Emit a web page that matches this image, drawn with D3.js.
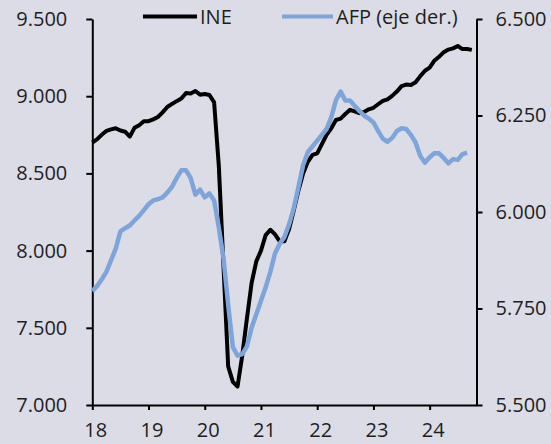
<!DOCTYPE html>
<html>
<head>
<meta charset="utf-8">
<script src="https://cdn.jsdelivr.net/npm/d3@7"></script>
<style>
  body { margin: 0; background: #dcdce6; }
  text { font-family: "Open Sans", sans-serif; fill: #1e1e1e; }
</style>
</head>
<body>
<div id="my_dataviz"></div>
<script>
// monthly series, Jan 2018 onward (thousands of people)
var ine = [8700, 8720, 8750, 8775, 8785, 8792, 8778, 8770, 8738, 8795, 8812, 8838,
           8838, 8850, 8865, 8895, 8930, 8950, 8968, 8985, 9020, 9018, 9034, 9010,
           9014, 9008, 8960, 8550, 7900, 7250, 7150, 7120, 7320, 7560, 7790, 7930,
           8000, 8100, 8135, 8105, 8060, 8060, 8140, 8260, 8390, 8500, 8575, 8620,
           8630, 8690, 8750, 8792, 8846, 8855, 8885, 8912, 8902, 8890, 8898, 8915,
           8925, 8948, 8970, 8980, 9002, 9030, 9065, 9075, 9073, 9090, 9130, 9165,
           9185, 9230, 9255, 9285, 9302, 9310, 9325, 9305, 9306, 9300];
var afp = [5795, 5808, 5825, 5845, 5875, 5905, 5950, 5958, 5965, 5978, 5990, 6005,
           6020, 6030, 6033, 6038, 6050, 6065, 6088, 6108, 6108, 6088, 6045, 6058,
           6038, 6048, 6030, 5960, 5880, 5760, 5650, 5628, 5632, 5652, 5700, 5735,
           5770, 5805, 5845, 5893, 5918, 5935, 5968, 6010, 6065, 6122, 6155, 6170,
           6185, 6200, 6215, 6245, 6290, 6312, 6289, 6289, 6275, 6262, 6250, 6242,
           6232, 6210, 6190, 6182, 6192, 6210, 6217, 6215, 6200, 6180, 6145, 6128,
           6142, 6152, 6152, 6140, 6126, 6137, 6135, 6150, 6154];
var xTickLabels = ["18", "19", "20", "21", "22", "23", "24"];
var leftTicks = [7000, 7500, 8000, 8500, 9000, 9500];
var rightTicks = [5500, 5750, 6000, 6250, 6500];
var seriesNames = ["INE", "AFP (eje der.)"];

var margin = {top: 19, right: 74.5, bottom: 39, left: 92.3},
    width = 551 - margin.left - margin.right,
    height = 444 - margin.top - margin.bottom;

var svg = d3.select("#my_dataviz")
  .append("svg")
    .attr("width", 551)
    .attr("height", 444)
    .style("display", "block")
    .style("background", "#dcdce6");

var g = svg.append("g")
    .attr("transform", "translate(" + margin.left + "," + margin.top + ")");

// x in months since Jan 2018
var x = d3.scaleLinear().domain([0, 82]).range([0, width]);
var yL = d3.scaleLinear().domain([7000, 9500]).range([height, 0]);
var yR = d3.scaleLinear().domain([5500, 6500]).range([height, 0]);

var fmt = function(d) { return d3.format(",")(d).replace(",", "."); };

var xAxis = g.append("g")
    .attr("transform", "translate(0," + height + ")")
    .call(d3.axisBottom(x)
      .tickValues(xTickLabels.map(function(d, i) { return i * 12; }))
      .tickFormat(function(d, i) { return xTickLabels[i]; })
      .tickSize(5).tickSizeOuter(0).tickPadding(13));
xAxis.selectAll("text").attr("dx", 3);

var leftAxis = g.append("g")
    .call(d3.axisLeft(yL).tickValues(leftTicks).tickFormat(fmt)
      .tickSize(6).tickSizeOuter(0).tickPadding(19));

var rightAxis = g.append("g")
    .attr("transform", "translate(" + width + ",0)")
    .call(d3.axisRight(yR).tickValues(rightTicks).tickFormat(fmt)
      .tickSize(6).tickSizeOuter(0).tickPadding(13));

g.selectAll(".domain, .tick line")
    .attr("stroke", "#000")
    .attr("stroke-width", 2);
g.selectAll(".tick text")
    .style("font-size", "20px")
    .style("font-family", "'Open Sans', sans-serif")
    .attr("fill", "#1e1e1e");

var lineL = d3.line()
    .x(function(d, i) { return x(i); })
    .y(function(d) { return yL(d); });
var lineR = d3.line()
    .x(function(d, i) { return x(i); })
    .y(function(d) { return yR(d); });

g.append("path")
    .datum(ine)
    .attr("fill", "none")
    .attr("stroke", "#000")
    .attr("stroke-width", 4)
    .attr("stroke-linejoin", "round")
    .attr("d", lineL);

g.append("path")
    .datum(afp)
    .attr("fill", "none")
    .attr("stroke", "#7da5da")
    .attr("stroke-width", 4.5)
    .attr("stroke-linejoin", "round")
    .attr("d", lineR);

// legend
var legend = [
  {name: seriesNames[0], color: "#000", x1: 143, x2: 197, tx: 200},
  {name: seriesNames[1], color: "#7da5da", x1: 282, x2: 333, tx: 336}
];
legend.forEach(function(l) {
  svg.append("line")
    .attr("x1", l.x1).attr("x2", l.x2)
    .attr("y1", 16.5).attr("y2", 16.5)
    .attr("stroke", l.color)
    .attr("stroke-width", 4);
  svg.append("text")
    .attr("x", l.tx).attr("y", 24)
    .style("font-size", "20px")
    .text(l.name);
});
</script>
</body>
</html>
